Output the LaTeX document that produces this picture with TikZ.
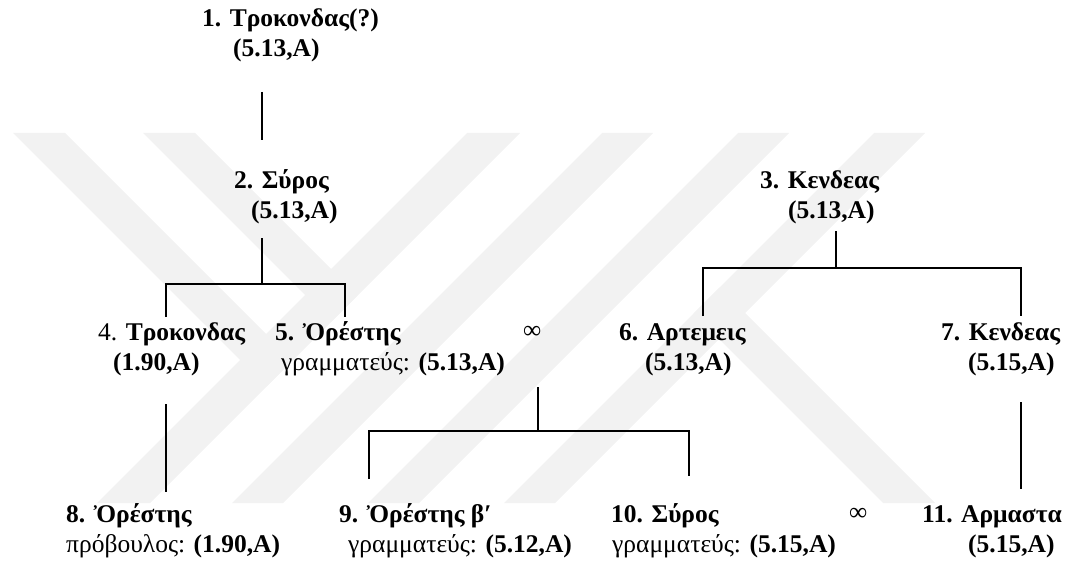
\documentclass[tikz,border=0pt]{standalone}
\usepackage{fontspec}
\setmainfont{Liberation Serif}
\begin{document}
\begin{tikzpicture}[x=1pt,y=-1pt,
  lbl/.style={anchor=base west, inner sep=0pt, font=\fontsize{25.5}{30}\selectfont\bfseries},
  link/.style={line width=1.3pt},
  wm/.style={fill=black!5, draw=none}]
\useasboundingbox (0,0) rectangle (1068,567);
% faint background watermark
\fill[wm] (467,133) -- (520,133) -- (150,503) -- (97,503) -- cycle;
\fill[wm] (602,133) -- (653,133) -- (283,503) -- (232,503) -- cycle;
\fill[wm] (738,133) -- (789,133) -- (419,503) -- (368,503) -- cycle;
\fill[wm] (874,133) -- (925,133) -- (555,503) -- (504,503) -- cycle;
\fill[wm] (13,133) -- (65,133) -- (292.5,360.5) -- (266.5,386.5) -- cycle;
\fill[wm] (143,133) -- (195,133) -- (357.5,295.5) -- (331.5,321.5) -- cycle;
\fill[wm] (719.5,287.5) -- (935,503) -- (883,503) -- (693.5,313.5) -- cycle;
% names
\node[lbl] (n1) at (202,27) {1. Τροκονδας(?)};
\node[lbl] (n1i) at (233,57) {(5.13,A)};
\node[lbl] (n2) at (234,188) {2. Σύρος};
\node[lbl] (n2i) at (251,218) {(5.13,A)};
\node[lbl] (n3) at (760,188) {3. Κενδεας};
\node[lbl] (n3i) at (788,218) {(5.13,A)};
\node[lbl] (n4) at (98,340) {{\mdseries 4.} Τροκονδας};
\node[lbl] (n4i) at (113,370) {(1.90,A)};
\node[lbl] (n5) at (275,340) {5. Ὀρέστης};
\node[lbl] (n5i) at (281,370) {{\mdseries γραμματεύς:} (5.13,A)};
\node[lbl] (inf1) at (523,338) {\mdseries ∞};
\node[lbl] (n6) at (619,340) {6. Αρτεμεις};
\node[lbl] (n6i) at (645,370) {(5.13,A)};
\node[lbl] (n7) at (941,340) {7. Κενδεας};
\node[lbl] (n7i) at (968,370) {(5.15,A)};
\node[lbl] (n8) at (66,522) {8. Ὀρέστης};
\node[lbl] (n8i) at (66,552) {{\mdseries πρόβουλος:} (1.90,A)};
\node[lbl] (n9) at (339,522) {9. Ὀρέστης β′};
\node[lbl] (n9i) at (348,552) {{\mdseries γραμματεύς:} (5.12,A)};
\node[lbl] (n10) at (611,522) {10. Σύρος};
\node[lbl] (n10i) at (612,552) {{\mdseries γραμματεύς:} (5.15,A)};
\node[lbl] (inf2) at (849,520) {\mdseries ∞};
\node[lbl] (n11) at (922,522) {11. Αρμαστα};
\node[lbl] (n11i) at (968,552) {(5.15,A)};
% connector points
\coordinate (p1) at (262,92);
\coordinate (p2) at (262,140);
\coordinate (q2) at (262,238);
\coordinate (j2) at (262,284);
\coordinate (t4) at (166,317);
\coordinate (t5) at (345,317);
\coordinate (q3) at (836,231);
\coordinate (j3) at (836,268);
\coordinate (t6) at (703,316);
\coordinate (t7) at (1021,316);
\coordinate (q4) at (166,404);
\coordinate (t8) at (166,492);
\coordinate (qm) at (538,387);
\coordinate (jm) at (538,431);
\coordinate (t9) at (369,479);
\coordinate (t10) at (689,476);
\coordinate (q7) at (1021,402);
\coordinate (t11) at (1021,489);
% connectors
\draw[link] (p1) -- (p2);
\draw[link] (q2) -- (j2);
\draw[link] (t4) -- (t4 |- j2) -- (t5 |- j2) -- (t5);
\draw[link] (q3) -- (j3);
\draw[link] (t6) -- (t6 |- j3) -- (t7 |- j3) -- (t7);
\draw[link] (q4) -- (t8);
\draw[link] (qm) -- (jm);
\draw[link] (t9) -- (t9 |- jm) -- (t10 |- jm) -- (t10);
\draw[link] (q7) -- (t11);
\end{tikzpicture}
\end{document}
